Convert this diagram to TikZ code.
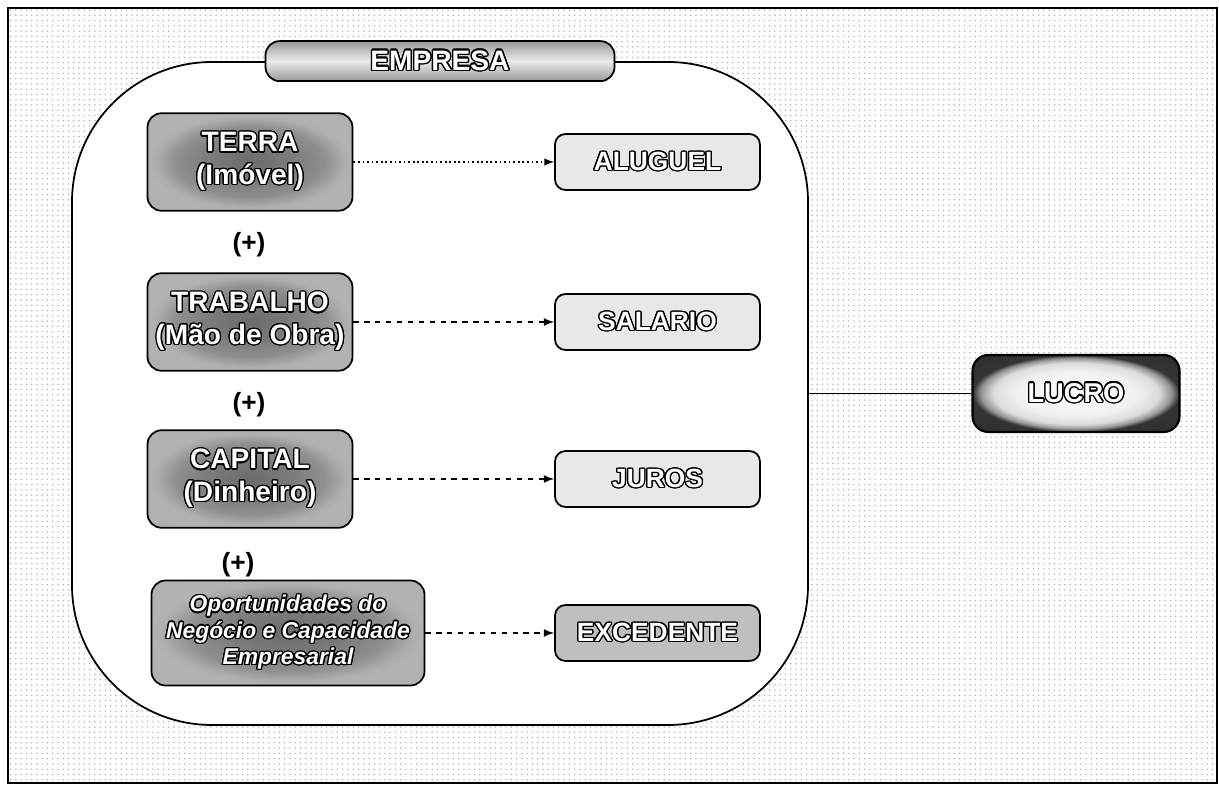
\documentclass[tikz,border=0pt]{standalone}
\usepackage{fontspec}
\setmainfont{Liberation Sans}
\usepackage{contour}
\contourlength{0.75pt}
\usetikzlibrary{patterns}
\pgfdeclareradialshading{fator}{\pgfpoint{0bp}{0bp}}{color(0bp)=(black!58);color(10bp)=(black!52);color(18bp)=(black!44);color(23bp)=(black!32);color(25bp)=(black!30);color(50bp)=(black!32)}
\pgfdeclareradialshading{brilho}{\pgfpoint{0bp}{0bp}}{color(0bp)=(white);color(15bp)=(black!6);color(20bp)=(black!14);color(23bp)=(black!42);color(25bp)=(black!80);color(50bp)=(black!85)}
\newcommand\txt[1]{\contour{black}{#1}}
\begin{document}
\begin{tikzpicture}[>=latex,
    fator/.style={draw=black,line width=1pt,rounded corners=8pt,shading=fator,text=white,align=center,inner sep=1pt,
        minimum width=4.1cm,minimum height=1.95cm,font=\fontsize{16}{18.5}\selectfont\bfseries},
    ganho/.style={draw=black,line width=1pt,rounded corners=6pt,fill=gray!18,text=white,
        minimum width=4.1cm,minimum height=1.12cm,font=\fontsize{15}{17}\selectfont\bfseries},
    mais/.style={font=\fontsize{15}{17}\selectfont\bfseries},
    pontos/.style={->,line width=.9pt,dash pattern=on 1pt off 1.6pt},
    tracos/.style={->,line width=1pt,dash pattern=on 3pt off 3.2pt}]
\useasboundingbox (0,0) rectangle (24.38,15.7);
\draw[line width=.6pt,pattern=dots,pattern color=gray!55] (.16,.04) rectangle (24.34,15.54);
\node[draw,line width=1pt,fill=white,rounded corners=2.8cm,minimum width=14.72cm,minimum height=13.26cm] (empresa) at (8.8,7.83) {};
\node[draw,line width=1pt,rounded corners=8pt,top color=gray!80,bottom color=gray!80,middle color=gray!15,text=white,
    minimum width=6.98cm,minimum height=.8cm,font=\fontsize{16}{18}\selectfont\bfseries] (tab) at (empresa.north) {\txt{EMPRESA}};

\node[fator] (terra) at (5,12.46) {\txt{TERRA}\\\txt{(Imóvel)}};
\node[mais] (mais1) at (4.98,10.8) {(+)};
\node[fator] (trabalho) at (5,9.26) {\txt{TRABALHO}\\\txt{(Mão de Obra)}};
\node[mais] (mais2) at (4.98,7.6) {(+)};
\node[fator] (capital) at (5,6.12) {\txt{CAPITAL}\\\txt{(Dinheiro)}};
\node[mais] (mais3) at (4.76,4.4) {(+)};
\node[fator,minimum width=5.46cm,minimum height=2.1cm,font=\fontsize{13}{15}\selectfont\bfseries\itshape] (oport) at (5.76,3.04)
    {\txt{Oportunidades do}\\\txt{Negócio e Capacidade}\\\txt{Empresarial}};

\node[ganho] (aluguel) at (13.15,12.46) {\txt{ALUGUEL}};
\node[ganho] (salario) at (13.15,9.26) {\txt{SALARIO}};
\node[ganho] (juros) at (13.15,6.12) {\txt{JUROS}};
\node[ganho,fill=gray!50] (excedente) at (13.15,3.04) {\txt{EXCEDENTE}};

\draw[pontos] (terra) -- (aluguel);
\draw[tracos] (trabalho) -- (salario);
\draw[tracos] (capital) -- (juros);
\draw[tracos] (oport) -- (excedente);

\node[draw=black,line width=1.2pt,rounded corners=9pt,shading=brilho,text=white,
    minimum width=4.14cm,minimum height=1.54cm,font=\fontsize{15.5}{17}\selectfont\bfseries] (lucro) at (21.52,7.83) {\txt{LUCRO}};
\draw[line width=1pt] (empresa.east) -- (lucro);
\end{tikzpicture}
\end{document}
